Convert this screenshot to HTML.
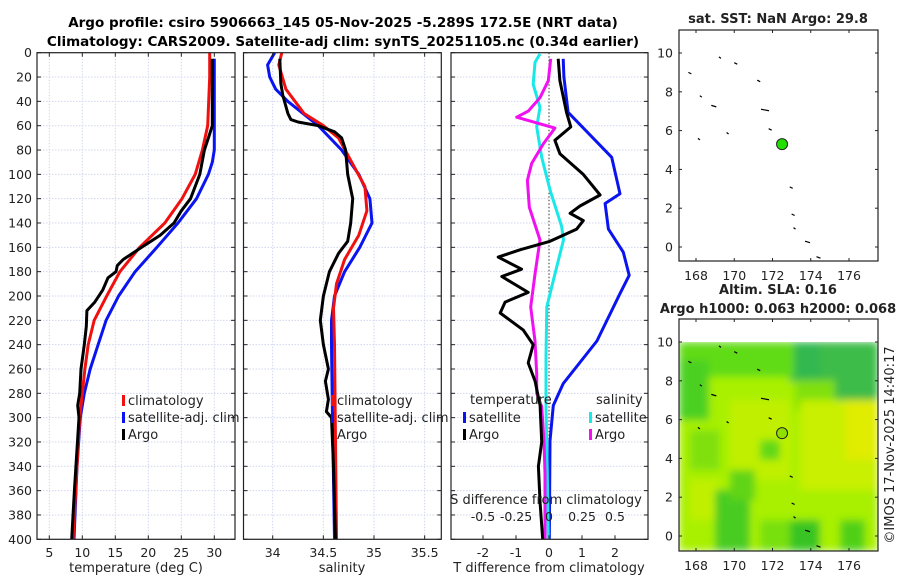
<!DOCTYPE html>
<html><head><meta charset="utf-8"><style>
html,body{margin:0;padding:0;background:#fff;}
svg{display:block;font-family:"DejaVu Sans","Liberation Sans",sans-serif;}
</style></head><body>
<svg id="c" width="900" height="580" viewBox="0 0 900 580" xmlns="http://www.w3.org/2000/svg">
<defs><filter id="bl" x="0" y="0" width="100%" height="100%"><feGaussianBlur stdDeviation="4"/></filter>
<clipPath id="mclip"><rect x="679" y="342" width="199" height="209"/></clipPath></defs>
<text x="343" y="27" text-anchor="middle" font-size="13.5" font-weight="bold">Argo profile: csiro 5906663_145 05-Nov-2025 -5.289S 172.5E (NRT data)</text>
<text x="343" y="46" text-anchor="middle" font-size="13.5" font-weight="bold">Climatology: CARS2009. Satellite-adj clim: synTS_20251105.nc (0.34d earlier)</text>
<g id="g"></g>
</svg>
<script>
// ---- data ----
const depthTicks=[0,20,40,60,80,100,120,140,160,180,200,220,240,260,280,300,320,340,360,380,400];
const tempTicks=[5,10,15,20,25,30];
const salTicks=[34,34.5,35,35.5];
const salTickLabels=["34","34.5","35","35.5"];
const tdTicks=[-2,-1,0,1,2];
const sdTicks=[-0.5,-0.25,0,0.25,0.5];
const sdTickLabels=["-0.5","-0.25","0","0.25","0.5"];
const lonTicks=[168,170,172,174,176];
const latTicks=[0,2,4,6,8,10];

const climTD=[0,20,60,80,100,120,140,160,180,200,220,240,260,280,300,340,400];
const climT=[29.3,29.3,29.0,28.2,27.1,25.1,22.5,18.7,15.7,13.7,11.8,10.9,10.4,10.0,9.6,9.2,8.6];
const satTD=[5,80,90,100,120,140,160,180,200,220,240,260,280,300,340,400];
const satT=[30,30,29.7,29.1,27.3,24.5,21.3,18,15.5,13.6,12.4,11.2,10.3,9.7,9.2,8.75];
const argoTD=[5,60,70,80,100,120,130,140,150,160,170,175,180,185,195,205,212,225,240,260,280,290,300,360,400];
const argoT=[29.7,29.7,29.1,28.5,27.8,26.4,25,23.9,21.8,19,16.2,15.3,15.1,13.9,13.1,11.9,10.7,10.6,10.3,9.8,9.6,9.3,9.5,8.8,8.4];

const climSD=[0,10,30,50,60,70,90,110,130,150,170,190,210,240,400];
const climS=[34.09,34.06,34.13,34.31,34.5,34.65,34.78,34.91,34.93,34.85,34.71,34.63,34.6,34.61,34.63];
const satSD=[0,10,20,30,40,60,80,100,120,140,160,180,200,220,240,300,400];
const satS=[34.02,33.95,33.97,34.03,34.15,34.45,34.68,34.85,34.96,34.98,34.86,34.71,34.61,34.58,34.58,34.59,34.61];
const argoSD=[5,25,35,50,55,57,60,65,70,80,100,120,140,155,165,180,200,220,240,260,270,285,295,300,340,400];
const argoS=[34.07,34.08,34.1,34.15,34.18,34.25,34.45,34.61,34.68,34.72,34.74,34.79,34.77,34.74,34.65,34.56,34.5,34.47,34.5,34.55,34.52,34.55,34.53,34.58,34.6,34.62];

const satTdD=[5,20,49,86,116,124,145,164,183,198,237,272,290,319,400];
const satTd=[0.43,0.45,0.58,1.9,2.15,1.7,1.8,2.25,2.43,2.15,1.45,0.43,0.13,0.03,0.01];
const argoTdD=[5,23,49,61,72,83,100,117,126,132,138,145,155,162,168,178,184,197,205,214,228,240,255,270,290,320,340,370,400];
const argoTd=[0.28,0.33,0.53,0.66,0.18,0.33,1.04,1.55,0.94,0.64,1.04,0.84,0.03,-0.88,-1.54,-0.83,-1.43,-0.63,-1.33,-1.48,-0.78,-0.48,-0.63,-0.42,-0.27,-0.22,-0.32,-0.27,-0.19];
const satSdD=[1,8,26,45,61,86,113,143,154,182,209,250,291,346,400];
const satSd=[-0.068,-0.106,-0.12,-0.068,-0.093,-0.055,0.008,0.096,0.11,0.045,-0.017,-0.023,-0.023,-0.013,-0.005];
const argoSdD=[5,23,37,48,53,62,75,91,105,127,154,182,209,237,264,280,291,319,346,400];
const argoSd=[0.013,-0.005,-0.068,-0.157,-0.245,0.045,-0.043,-0.131,-0.164,-0.149,-0.068,-0.106,-0.139,-0.106,-0.093,-0.093,-0.055,-0.038,-0.03,-0.03];

const floatLon=[172.5], floatLat=[5.3];

// ---- helpers ----
const NS="http://www.w3.org/2000/svg";
const G=document.getElementById('g');
function mk(tag,attrs,parent){const e=document.createElementNS(NS,tag);for(const k in attrs)e.setAttribute(k,attrs[k]);(parent||G).appendChild(e);return e;}
function txt(x,y,s,size,anchor,parent){const t=mk('text',{x:x,y:y,'font-size':size,'text-anchor':anchor||'middle',fill:'#222'},parent);t.textContent=s;return t;}
const Y0=52.7,Y1=539.3;
const yD=d=>Y0+(Y1-Y0)*d/400;
function lin(d0,d1,r0,r1){return v=>r0+(v-d0)*(r1-r0)/(d1-d0);}
const P1={x0:37,x1:235}, P2={x0:243.5,x1:441.3}, P3={x0:451,x1:648};
const xT=lin(5,30,49.3,214.3);
const xS=lin(34,35,272.7,374);
const xTd=lin(0,1,549,582);
const xSd=lin(0,0.25,549,582);

function grid(P,xs,xf,vert){
  depthTicks.forEach(d=>{const l=mk('line',{x1:P.x0,x2:P.x1,y1:yD(d),y2:yD(d),stroke:'#d0d6ee','stroke-width':1,'stroke-dasharray':'1.5,1.5'});
  });
  if(vert) xs.forEach(v=>{const l=mk('line',{x1:xf(v),x2:xf(v),y1:Y0,y2:Y1,stroke:'#d0d6ee','stroke-width':1,'stroke-dasharray':'1.5,1.5'});
  });
}
function frame(P,name){
  depthTicks.forEach(d=>{mk('line',{x1:P.x0,x2:P.x0+4,y1:yD(d),y2:yD(d),stroke:'#222'});mk('line',{x1:P.x1-4,x2:P.x1,y1:yD(d),y2:yD(d),stroke:'#222'});});
  const r=mk('rect',{x:P.x0,y:Y0,width:P.x1-P.x0,height:Y1-Y0,fill:'none',stroke:'#222','stroke-width':1.2});
  
}
function xticks(vals,labels,f,y,P,top){
  vals.forEach((v,i)=>{const x=f(v);mk('line',{x1:x,x2:x,y1:Y1,y2:Y1-4,stroke:'#222'});if(top)mk('line',{x1:x,x2:x,y1:Y0,y2:Y0+4,stroke:'#222'});
  const t=txt(x,y,labels[i],12.5);});
}
function line(ds,vs,xf,color,w,name){
  const pts=ds.map((d,i)=>xf(vs[i]).toFixed(1)+','+yD(d).toFixed(1)).join(' ');
  const p=mk('polyline',{points:pts,fill:'none',stroke:color,'stroke-width':w||3,'stroke-linejoin':'round'});
  return p;
}
function legItem(x,y,color,label){
  const r=mk('rect',{x:x,y:y-10,width:3,height:11,fill:color});
  
  const t=txt(x+6,y,label,13,'start');
}

// Panel 1
grid(P1,tempTicks,xT,true);
line(satTD,satT,xT,'#0a14f0',3,'series-temp-satellite');
line(climTD,climT,xT,'#f01010',3,'series-temp-climatology');
line(argoTD,argoT,xT,'#000',3,'series-temp-argo');
frame(P1,'temperature-panel');
depthTicks.forEach(d=>{const t=txt(32,yD(d)+4.5,String(d),12.5,'end');});
xticks(tempTicks,tempTicks.map(String),xT,557,P1,true);
{const t=txt(136,572,'temperature (deg C)',13);}
legItem(122,405,'#f01010','climatology');legItem(122,422,'#0a14f0','satellite-adj. clim');legItem(122,439,'#000','Argo');

// Panel 2
grid(P2,salTicks,xS,true);
line(satSD,satS,xS,'#0a14f0',3,'series-sal-satellite');
line(climSD,climS,xS,'#f01010',3,'series-sal-climatology');
line(argoSD,argoS,xS,'#000',3,'series-sal-argo');
frame(P2,'salinity-panel');
xticks(salTicks,salTickLabels,xS,557,P2,true);
{const t=txt(342,572,'salinity',13);}
legItem(331,405,'#f01010','climatology');legItem(331,422,'#0a14f0','satellite-adj. clim');legItem(331,439,'#000','Argo');

// Panel 3
grid(P3,[],xTd,false);
{const z=mk('line',{x1:xTd(0),x2:xTd(0),y1:Y0,y2:Y1,stroke:'#333','stroke-width':1,'stroke-dasharray':'1.5,2'});}
line(satTdD,satTd,xTd,'#0a14f0',3,'series-tdiff-satellite');
line(satSdD,satSd,xSd,'#18e8e8',3,'series-sdiff-satellite');
line(argoSdD,argoSd,xSd,'#f010f0',3,'series-sdiff-argo');
line(argoTdD,argoTd,xTd,'#000',3,'series-tdiff-argo');
frame(P3,'difference-panel');
xticks(tdTicks,tdTicks.map(String),xTd,557,P3,false);
{const t=txt(549,572,'T difference from climatology',13);}
{const t=txt(546,504,'S difference from climatology',13);}
sdTicks.forEach((v,i)=>{const t=txt(xSd(v),521,sdTickLabels[i],12.5);});
{const t=txt(470,404,'temperature',13,'start');}
{const t=txt(596,404,'salinity',13,'start');}
legItem(463,422,'#0a14f0','satellite');legItem(463,439,'#000','Argo');
legItem(589,422,'#18e8e8','satellite');legItem(589,439,'#f010f0','Argo');

// Maps
function mapAxes(top,bottom,name){
  const xL=lin(168,176,696,849), yL=lin(0,10,top+217,top+23);
  lonTicks.forEach(v=>{const x=xL(v);mk('line',{x1:x,x2:x,y1:top,y2:top+3,stroke:'#222'});mk('line',{x1:x,x2:x,y1:bottom,y2:bottom-3,stroke:'#222'});
    const t=txt(x,bottom+19,String(v),12.5);});
  latTicks.forEach(v=>{const y=yL(v);mk('line',{x1:679,x2:682,y1:y,y2:y,stroke:'#222'});mk('line',{x1:878,x2:875,y1:y,y2:y,stroke:'#222'});
    const t=txt(673,y+4.5,String(v),12.5,'end');});
  const coast=[[169.2,9.8,2],[170,9.5,3],[167.6,9,3],[171.2,8.6,3],[168.2,7.8,2],[168.8,7.3,5],[171.4,7.1,8],[171.8,6.1,3],[169.6,5.9,2],[168.1,5.6,2],[172.9,3.1,3],[173,1.7,3],[173.1,1,2],[173.7,0.3,5],[174.3,-0.5,4]];
  coast.forEach(c=>{const p=mk('line',{x1:xL(c[0]),y1:yL(c[1]),x2:xL(c[0])+c[2],y2:yL(c[1])+1.5,stroke:'#000','stroke-width':1.2});});
  return {xL,yL};
}
// top map
{const r=mk('rect',{x:679,y:30,width:199,height:231,fill:'#fff'});}
const m1=mapAxes(30,261,'sst');
{const c=mk('circle',{cx:m1.xL(floatLon[0]),cy:m1.yL(floatLat[0]),r:5.5,fill:'#22e000',stroke:'#222','stroke-width':1});}
mk('rect',{x:679,y:30,width:199,height:231,fill:'none',stroke:'#222','stroke-width':1.2});
{const t=txt(778,23,'sat. SST: NaN Argo: 29.8',13);t.setAttribute('font-weight','bold');}
// bottom map
const blobs=[[679,342,199,209,'#a8f000'],[790,342,88,40,'#30b850'],[820,342,58,60,'#3cbc48'],[679,342,115,35,'#60dc18'],[679,360,30,60,'#4cd020'],[795,380,40,30,'#80e008'],[800,400,78,90,'#c8f000'],[845,400,33,60,'#e0ec00'],[730,400,60,80,'#c0f000'],[690,480,30,40,'#c0f000'],[715,490,35,61,'#48cc20'],[730,470,25,30,'#60d418'],[760,520,60,31,'#78e010'],[790,520,30,31,'#38c420'],[840,520,25,31,'#50d018'],[690,430,30,40,'#80e010'],[760,440,20,20,'#60d818']];
const bg=mk('g',{'clip-path':'url(#mclip)'});
const bgi=mk('g',{filter:'url(#bl)'},bg);
blobs.forEach(b=>mk('rect',{x:b[0],y:b[1],width:b[2],height:b[3],fill:b[4]},bgi));
const m2=mapAxes(319,551,'sla');
{const c=mk('circle',{cx:m2.xL(floatLon[0]),cy:m2.yL(floatLat[0]),r:5.5,fill:'#90e000',stroke:'#222','stroke-width':1});}
mk('rect',{x:679,y:319,width:199,height:232,fill:'none',stroke:'#222','stroke-width':1.2});
{const t=txt(778,294,'Altim. SLA: 0.16',13);t.setAttribute('font-weight','bold');}
{const t=txt(778,313,'Argo h1000: 0.063 h2000: 0.068',13);t.setAttribute('font-weight','bold');}
{const t=txt(0,0,'©IMOS 17-Nov-2025 14:40:17',13);t.setAttribute('transform','translate(894,445) rotate(-90)');}
</script>
</body></html>
